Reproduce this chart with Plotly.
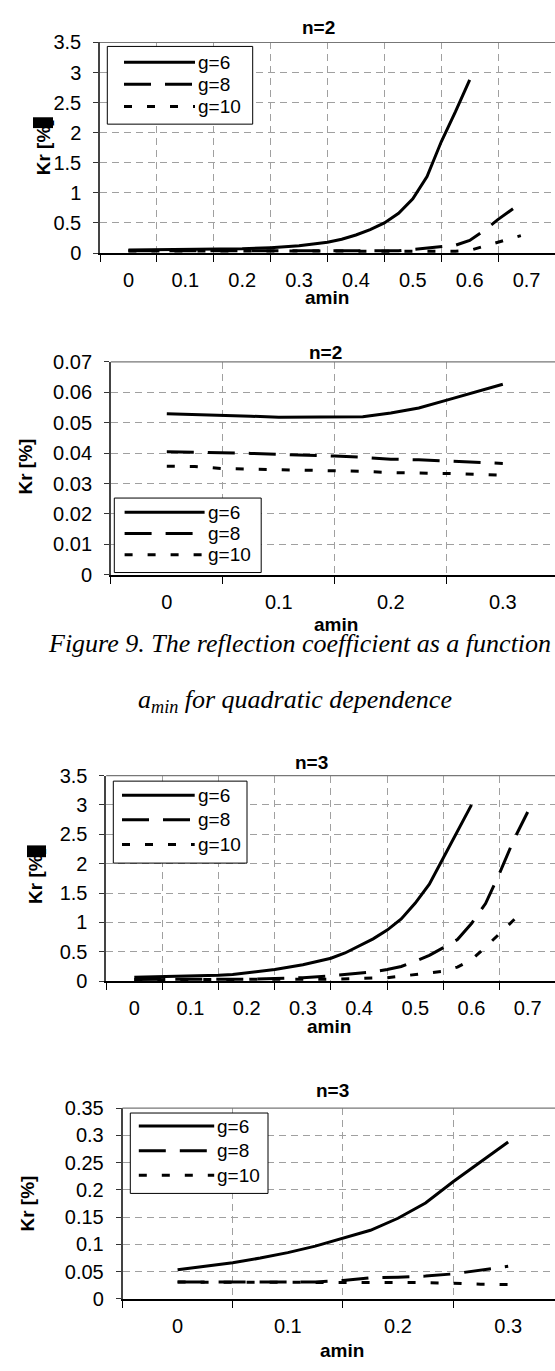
import plotly.graph_objects as go

W, H = 555, 1371
SANS = "Liberation Sans, Arial, sans-serif"
SERIF = "Liberation Serif, Times New Roman, serif"

# ---------------- data ----------------
series_names = ["g=6", "g=8", "g=10"]

# Panel 1: n=2, amin 0 .. 0.7
p1_x_g6 = [0, 0.05, 0.1, 0.15, 0.2, 0.25, 0.3, 0.325, 0.35, 0.375, 0.4, 0.425, 0.45, 0.475, 0.5, 0.525, 0.55, 0.575, 0.6]
p1_y_g6 = [0.05, 0.052, 0.055, 0.06, 0.07, 0.09, 0.12, 0.15, 0.18, 0.23, 0.3, 0.39, 0.5, 0.66, 0.9, 1.27, 1.85, 2.35, 2.88]
p1_x_g8 = [0, 0.1, 0.2, 0.3, 0.4, 0.45, 0.475, 0.5, 0.525, 0.55, 0.575, 0.6, 0.625, 0.65, 0.675, 0.69]
p1_y_g8 = [0.04, 0.04, 0.038, 0.037, 0.035, 0.035, 0.04, 0.06, 0.08, 0.1, 0.13, 0.21, 0.37, 0.56, 0.73, 0.83]
p1_x_g10 = [0, 0.1, 0.2, 0.3, 0.4, 0.5, 0.55, 0.575, 0.6, 0.625, 0.65, 0.675, 0.69]
p1_y_g10 = [0.036, 0.035, 0.034, 0.033, 0.03, 0.03, 0.03, 0.03, 0.045, 0.11, 0.18, 0.24, 0.29]

# Panel 2: n=2, amin 0 .. 0.3
p2_x = [0, 0.025, 0.05, 0.075, 0.1, 0.125, 0.15, 0.175, 0.2, 0.225, 0.25, 0.275, 0.3]
p2_y_g6 = [0.0529, 0.0527, 0.0524, 0.0521, 0.0518, 0.0518, 0.0518, 0.0519, 0.0532, 0.0548, 0.0574, 0.06, 0.0626]
p2_y_g8 = [0.0404, 0.0403, 0.0401, 0.0399, 0.0396, 0.0394, 0.039, 0.0386, 0.038, 0.0378, 0.0374, 0.037, 0.0366]
p2_y_g10 = [0.0357, 0.0356, 0.0349, 0.0347, 0.0345, 0.0344, 0.0343, 0.034, 0.0336, 0.0335, 0.0333, 0.033, 0.0327]

# Panel 3: n=3, amin 0 .. 0.7
p3_x_g6 = [0, 0.05, 0.1, 0.15, 0.175, 0.2, 0.25, 0.3, 0.35, 0.375, 0.4, 0.425, 0.45, 0.475, 0.5, 0.525, 0.55, 0.575, 0.6]
p3_y_g6 = [0.065, 0.075, 0.085, 0.1, 0.115, 0.14, 0.2, 0.28, 0.39, 0.48, 0.6, 0.72, 0.87, 1.06, 1.33, 1.65, 2.1, 2.55, 3.0]
p3_x_g8 = [0, 0.05, 0.1, 0.15, 0.2, 0.25, 0.3, 0.35, 0.4, 0.425, 0.45, 0.475, 0.5, 0.525, 0.55, 0.575, 0.6, 0.625, 0.65, 0.675, 0.7]
p3_y_g8 = [0.03, 0.03, 0.03, 0.03, 0.035, 0.045, 0.06, 0.09, 0.13, 0.16, 0.2, 0.25, 0.34, 0.44, 0.57, 0.71, 0.98, 1.32, 1.84, 2.4, 2.88]
p3_x_g10 = [0, 0.1, 0.2, 0.3, 0.35, 0.4, 0.45, 0.475, 0.5, 0.525, 0.55, 0.575, 0.6, 0.625, 0.65, 0.675, 0.69]
p3_y_g10 = [0.025, 0.025, 0.025, 0.03, 0.035, 0.045, 0.06, 0.085, 0.11, 0.14, 0.17, 0.24, 0.365, 0.58, 0.81, 1.04, 1.2]

# Panel 4: n=3, amin 0 .. 0.3
p4_x = [0, 0.025, 0.05, 0.075, 0.1, 0.125, 0.15, 0.175, 0.2, 0.225, 0.25, 0.275, 0.3]
p4_y_g6 = [0.0535, 0.06, 0.0665, 0.075, 0.085, 0.097, 0.111, 0.126, 0.148, 0.176, 0.215, 0.252, 0.288]
p4_y_g8 = [0.031, 0.031, 0.031, 0.031, 0.031, 0.031, 0.034, 0.039, 0.04, 0.042, 0.046, 0.053, 0.06]
p4_y_g10 = [0.031, 0.031, 0.031, 0.031, 0.031, 0.031, 0.03, 0.03, 0.03, 0.03, 0.029, 0.027, 0.0265]

# tick labels
wide_xticks = [0, 0.1, 0.2, 0.3, 0.4, 0.5, 0.6, 0.7]
wide_xlabels = ["0", "0.1", "0.2", "0.3", "0.4", "0.5", "0.6", "0.7"]
narrow_xticks = [0, 0.1, 0.2, 0.3]
narrow_xlabels = ["0", "0.1", "0.2", "0.3"]
big_yticks = [0, 0.5, 1, 1.5, 2, 2.5, 3, 3.5]
big_ylabels = ["0", "0.5", "1", "1.5", "2", "2.5", "3", "3.5"]
p2_yticks = [0, 0.01, 0.02, 0.03, 0.04, 0.05, 0.06, 0.07]
p2_ylabels = ["0", "0.01", "0.02", "0.03", "0.04", "0.05", "0.06", "0.07"]
p4_yticks = [0, 0.05, 0.1, 0.15, 0.2, 0.25, 0.3, 0.35]
p4_ylabels = ["0", "0.05", "0.1", "0.15", "0.2", "0.25", "0.3", "0.35"]

titles = ["n=2", "n=2", "n=3", "n=3"]
x_title = "amin"
y_title = "Kr [%]"
caption_1 = "<i>Figure 9. The reflection coefficient as a function</i>"
caption_2 = "<i>a<sub>min</sub> for quadratic dependence</i>"

# ---------------- styling / layout (pixel positions) ----------------
DASHES = ["solid", "27px,14px", "8px,15px"]
GRID = "#a0a0a0"
GDASH = "7px,5px"


def fx(p):
    return p / W


def fy(p):
    return 1 - p / H


panels = [
    dict(series=[(p1_x_g6, p1_y_g6), (p1_x_g8, p1_y_g8), (p1_x_g10, p1_y_g10)],
         xdom=(100, 555), ydom=(32, 246), xr=[-0.05, 0.75], yr=[0, 3.5],
         xt=(wide_xticks, wide_xlabels), yt=(big_yticks, big_ylabels),
         title=(318.6, 17), xlab=(327.4, 291), ylab=(43, 138.5),
         legend=dict(box=(107.3, 36, 252.7, 115), lx=(124, 195), rows=(52, 74.5, 97)),
         blot=(33, 108, 53, 119)),
    dict(series=[(p2_x, p2_y_g6), (p2_x, p2_y_g8), (p2_x, p2_y_g10)],
         xdom=(110.8, 555), ydom=(356.5, 573), xr=[-0.05, 0.3466], yr=[0, 0.07],
         xt=(narrow_xticks, narrow_xlabels), yt=(p2_yticks, p2_ylabels),
         title=(325.7, 346.7), xlab=(336.3, 624), ylab=(25.7, 463.3),
         legend=dict(box=(114.3, 495, 261.2, 570.7), lx=(124.6, 204.6), rows=(509.3, 531, 552.7)),
         blot=None),
    dict(series=[(p3_x_g6, p3_y_g6), (p3_x_g8, p3_y_g8), (p3_x_g10, p3_y_g10)],
         xdom=(106.2, 555), ydom=(777, 986), xr=[-0.05, 0.7486], yr=[0, 3.5],
         xt=(wide_xticks, wide_xlabels), yt=(big_yticks, big_ylabels),
         title=(311.5, 763.3), xlab=(329.2, 1032.5), ylab=(36, 879),
         legend=dict(box=(113.3, 782.7, 247, 866), lx=(122, 194.7), rows=(797, 822, 847)),
         blot=(27, 848, 46, 860)),
    dict(series=[(p4_x, p4_y_g6), (p4_x, p4_y_g8), (p4_x, p4_y_g10)],
         xdom=(122.5, 555), ydom=(1115, 1309), xr=[-0.05, 0.3425], yr=[0, 0.35],
         xt=(narrow_xticks, narrow_xlabels), yt=(p4_yticks, p4_ylabels),
         title=(332.7, 1096.7), xlab=(341.6, 1361.7), ylab=(27.5, 1212.5),
         legend=dict(box=(130.3, 1120, 268, 1201.7), lx=(138.8, 214.2), rows=(1133.3, 1158.3, 1183.3)),
         blot=None),
]

fig = go.Figure()
shapes = []
annotations = []
layout_axes = {}

for i, p in enumerate(panels, start=1):
    xref = "x" if i == 1 else f"x{i}"
    yref = "y" if i == 1 else f"y{i}"
    xa = "xaxis" if i == 1 else f"xaxis{i}"
    ya = "yaxis" if i == 1 else f"yaxis{i}"

    for (xs, ys), dash, name in zip(p["series"], DASHES, series_names):
        fig.add_trace(go.Scatter(x=xs, y=ys, mode="lines", name=name, xaxis=xref, yaxis=yref,
                                 line=dict(color="black", width=3, dash=dash),
                                 showlegend=False, hoverinfo="skip"))

    layout_axes[xa] = dict(
        domain=[fx(p["xdom"][0]), fx(p["xdom"][1])], range=p["xr"], anchor=yref,
        tickmode="array", tickvals=p["xt"][0], ticktext=p["xt"][1], ticks="",
        showgrid=False, zeroline=False, showline=True, linecolor="black", linewidth=2,
        tickfont=dict(family=SANS, size=20, color="black"), ticklabelstandoff=8,
        minor=dict(tick0=-0.05, dtick=0.1, ticks="outside", ticklen=7, tickwidth=1,
                   tickcolor="black", showgrid=True, gridcolor=GRID, griddash=GDASH, gridwidth=1),
        fixedrange=True)
    layout_axes[ya] = dict(
        domain=[fy(p["ydom"][1]), fy(p["ydom"][0])], range=p["yr"], anchor=xref,
        tickmode="array", tickvals=p["yt"][0], ticktext=p["yt"][1],
        ticks="outside", ticklen=5, tickwidth=1, tickcolor="#333",
        showgrid=True, gridcolor=GRID, griddash=GDASH, gridwidth=1,
        zeroline=False, showline=True, linecolor="#444", linewidth=1.5,
        tickfont=dict(family=SANS, size=20, color="black"), ticklabelstandoff=8,
        fixedrange=True)

    # top border of plot area
    shapes.append(dict(type="line", xref=f"{xref} domain", yref=f"{yref} domain",
                       x0=0, x1=1, y0=1, y1=1, line=dict(color="#777", width=1.2)))

    # chart title, axis titles
    annotations.append(dict(text=f"<b>{titles[i-1]}</b>", x=fx(p["title"][0]), y=fy(p["title"][1]),
                            xref="paper", yref="paper", showarrow=False, xanchor="center", yanchor="middle",
                            font=dict(family=SANS, size=19, color="black")))
    annotations.append(dict(text=f"<b>{x_title}</b>", x=fx(p["xlab"][0]), y=fy(p["xlab"][1]),
                            xref="paper", yref="paper", showarrow=False, xanchor="center", yanchor="middle",
                            font=dict(family=SANS, size=19, color="black")))
    annotations.append(dict(text=f"<b>{y_title}</b>", x=fx(p["ylab"][0]), y=fy(p["ylab"][1]),
                            xref="paper", yref="paper", showarrow=False, xanchor="center", yanchor="middle",
                            textangle=-90, font=dict(family=SANS, size=19, color="black")))

    # legend (drawn manually to match the long line samples)
    lg = p["legend"]
    bx0, by0, bx1, by1 = lg["box"]
    shapes.append(dict(type="rect", xref="paper", yref="paper", x0=fx(bx0), x1=fx(bx1),
                       y0=fy(by1), y1=fy(by0), line=dict(color="black", width=1), fillcolor="white",
                       layer="above"))
    for row_y, dash, name in zip(lg["rows"], DASHES, series_names):
        shapes.append(dict(type="line", xref="paper", yref="paper", x0=fx(lg["lx"][0]), x1=fx(lg["lx"][1]),
                           y0=fy(row_y), y1=fy(row_y), line=dict(color="black", width=3, dash=dash),
                           layer="above"))
        annotations.append(dict(text=name, x=fx(lg["lx"][1] + 1), y=fy(row_y), xref="paper", yref="paper",
                                showarrow=False, xanchor="left", yanchor="middle",
                                font=dict(family=SANS, size=19, color="black")))

    if p["blot"] is not None:
        b0x, b0y, b1x, b1y = p["blot"]
        shapes.append(dict(type="rect", xref="paper", yref="paper", x0=fx(b0x), x1=fx(b1x),
                           y0=fy(b1y), y1=fy(b0y), line=dict(width=0), fillcolor="black", layer="above"))

# figure caption
annotations.append(dict(text=caption_1, x=fx(46), y=fy(643), xref="paper", yref="paper", showarrow=False,
                        xanchor="left", yanchor="middle", font=dict(family=SERIF, size=26, color="black")))
annotations.append(dict(text=caption_2, x=fx(136), y=fy(701), xref="paper", yref="paper", showarrow=False,
                        xanchor="left", yanchor="middle", font=dict(family=SERIF, size=26, color="black")))

fig.update_layout(
    width=W, height=H, margin=dict(l=0, r=0, t=0, b=0),
    paper_bgcolor="white", plot_bgcolor="white",
    showlegend=False, shapes=shapes, annotations=annotations,
    **layout_axes,
)

fig.write_html("out.html")
